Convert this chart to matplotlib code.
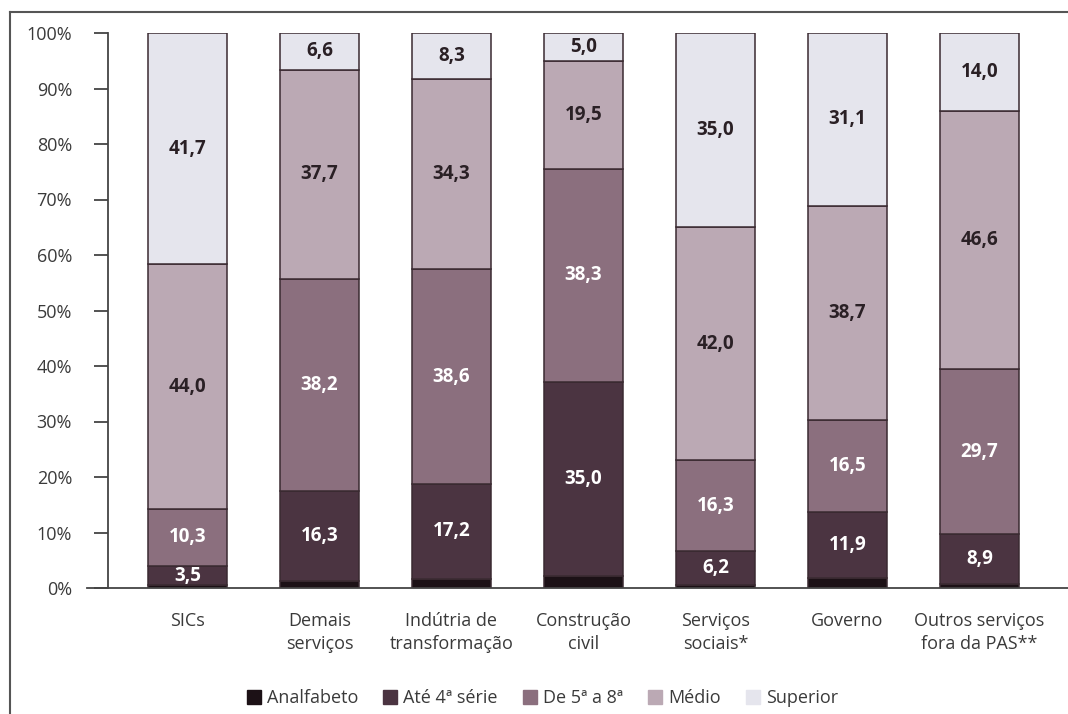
import matplotlib
matplotlib.use('Agg')
import matplotlib.pyplot as plt
from matplotlib.lines import Line2D
import numpy as np

plt.rcParams['font.family'] = ['Open Sans', 'DejaVu Sans']

categories = ['SICs', 'Demais\nserviços', 'Indútria de\ntransformação', 'Construção\ncivil',
              'Serviços\nsociais*', 'Governo', 'Outros serviços\nfora da PAS**']
series = ['Analfabeto', 'Até 4ª série', 'De 5ª a 8ª', 'Médio', 'Superior']

analfabeto = [0.5, 1.2, 1.6, 2.2, 0.5, 1.8, 0.8]
ate_4 = [3.5, 16.3, 17.2, 35.0, 6.2, 11.9, 8.9]
de_5_a_8 = [10.3, 38.2, 38.6, 38.3, 16.3, 16.5, 29.7]
medio = [44.0, 37.7, 34.3, 19.5, 42.0, 38.7, 46.6]
superior = [41.7, 6.6, 8.3, 5.0, 35.0, 31.1, 14.0]

colors = ['#1c1116', '#4b3441', '#8b6f7e', '#bba9b4', '#e5e5ed']
label_colors = [None, 'white', 'white', '#2a2025', '#2a2025']

fig = plt.figure(figsize=(10.68, 7.14), dpi=100)
ax = fig.add_axes([87 / 1068, 1 - 588 / 714, 1 - 87 / 1068, (588 - 33) / 714])

x = np.arange(len(categories))
bottom = np.zeros(len(categories))
for vals, col, lc in zip([analfabeto, ate_4, de_5_a_8, medio, superior], colors, label_colors):
    vals = np.array(vals)
    ax.bar(x, vals, 0.6, bottom=bottom, color=col, edgecolor='#3a2a31', linewidth=1.1, zorder=2)
    if lc is not None:
        for xi, b, v in zip(x, bottom, vals):
            ax.text(xi, b + v / 2, f'{v:.1f}'.replace('.', ','), ha='center', va='center',
                    color=lc, fontsize=13.5, fontweight='bold', zorder=3)
    bottom += vals

ax.set_xlim(-0.76, 6.67)
ax.set_ylim(0, 100)
ax.spines['left'].set_position(('data', -0.6))
ax.spines['top'].set_visible(False)
ax.spines['right'].set_visible(False)
for s in ['left', 'bottom']:
    ax.spines[s].set_color('#444444')
    ax.spines[s].set_linewidth(1.3)

ax.set_yticks(np.arange(0, 101, 10))
ax.set_yticklabels([f'{t}%' for t in range(0, 101, 10)])
ax.tick_params(axis='y', length=10, width=1.3, color='#444444', pad=16,
               labelsize=13, labelcolor='#3a3a3a')
ax.set_xticks(x)
ax.set_xticklabels(categories, fontsize=13, color='#3a3a3a', linespacing=1.4)
ax.tick_params(axis='x', length=0, pad=17)

handles = [plt.Rectangle((0, 0), 1, 1, color=c) for c in colors]
fig.legend(handles, series, loc='center', bbox_to_anchor=(0.508, 0.022), ncol=5,
           frameon=False, fontsize=13, handlelength=0.75, handleheight=0.75,
           handletextpad=0.35, columnspacing=1.4, labelcolor='#3a3a3a')

# outer frame
fig.add_artist(Line2D([10 / 1068, 10 / 1068], [0, 1 - 12 / 714], color='#555555', lw=1.5))
fig.add_artist(Line2D([10 / 1068, 1], [1 - 12 / 714, 1 - 12 / 714], color='#555555', lw=1.5))

fig.savefig('out.png', dpi=100)
